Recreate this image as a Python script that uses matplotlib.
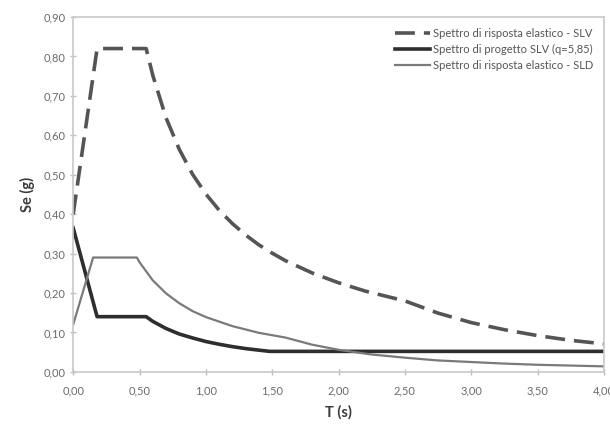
"""Spettri di risposta (NTC): elastico SLV, di progetto SLV (q=5,85), elastico SLD."""

import matplotlib
matplotlib.use("Agg")
import matplotlib.pyplot as plt
from matplotlib.ticker import FuncFormatter, MultipleLocator

# values
T_SLV = [0.00, 0.18, 0.55, 0.60, 0.70, 0.80, 0.90, 1.00, 1.10, 1.20, 1.30, 1.40,
         1.50, 1.60, 1.80, 2.00, 2.20, 2.50, 2.75, 3.00, 3.25, 3.50, 3.75, 4.00]
SE_SLV = [0.40, 0.82, 0.82, 0.752, 0.644, 0.564, 0.501, 0.451, 0.410, 0.376, 0.347, 0.322,
          0.301, 0.282, 0.251, 0.226, 0.205, 0.180, 0.149, 0.125, 0.107, 0.092, 0.080, 0.071]

T_PROG = [0.00, 0.18, 0.55, 0.60, 0.70, 0.80, 0.90, 1.00, 1.10, 1.20, 1.30, 1.48, 4.00]
SE_PROG = [0.365, 0.14, 0.14, 0.128, 0.110, 0.096, 0.086, 0.077, 0.070, 0.064, 0.059, 0.052, 0.052]

T_SLD = [0.00, 0.15, 0.48, 0.50, 0.60, 0.70, 0.80, 0.90, 1.00, 1.20, 1.40, 1.60,
         1.80, 2.00, 2.25, 2.50, 2.75, 3.00, 3.25, 3.50, 3.75, 4.00]
SE_SLD = [0.12, 0.29, 0.29, 0.278, 0.232, 0.199, 0.174, 0.154, 0.139, 0.116, 0.099, 0.087,
          0.069, 0.056, 0.044, 0.036, 0.029, 0.025, 0.021, 0.018, 0.016, 0.014]

LABELS = ["Spettro di risposta elastico - SLV",
          "Spettro di progetto SLV (q=5,85)",
          "Spettro di risposta elastico - SLD"]

plt.rcParams["font.family"] = ["Lato", "DejaVu Sans"]

fig = plt.figure(figsize=(6.1, 4.25), dpi=100)
ax = fig.add_axes([0.12, 0.125, 0.87, 0.835])

ax.plot(T_SLV, SE_SLV, color="#555555", lw=2.6, ls=(0, (5.5, 2.5)), label=LABELS[0])
ax.plot(T_PROG, SE_PROG, color="#2e2e2e", lw=2.6, label=LABELS[1])
ax.plot(T_SLD, SE_SLD, color="#7a7a7a", lw=1.6, label=LABELS[2])

ax.set_xlim(0, 4.0)
ax.set_ylim(0, 0.9)
ax.xaxis.set_major_locator(MultipleLocator(0.5))
ax.yaxis.set_major_locator(MultipleLocator(0.1))
comma = FuncFormatter(lambda v, _: f"{v:.2f}".replace(".", ","))
ax.xaxis.set_major_formatter(comma)
ax.yaxis.set_major_formatter(comma)
ax.tick_params(axis="both", colors="#bdbdbd", labelcolor="#6a6a6a", labelsize=8,
               length=4, width=1, direction="inout")
ax.tick_params(axis="x", pad=8)
for s in ax.spines.values():
    s.set_color("#c8c8c8")
    s.set_linewidth(1.2)

ax.set_xlabel("T (s)", fontsize=10.5, fontweight="bold", color="#3a3a3a", labelpad=6)
ax.set_ylabel("Se (g)", fontsize=10.5, fontweight="bold", color="#3a3a3a", labelpad=6)

leg = ax.legend(loc="upper right", frameon=False, fontsize=8, handlelength=3.2,
                handletextpad=0.2, labelspacing=0.45, borderaxespad=0.6)
for t in leg.get_texts():
    t.set_color("#555555")

fig.savefig("out.png", dpi=100)
